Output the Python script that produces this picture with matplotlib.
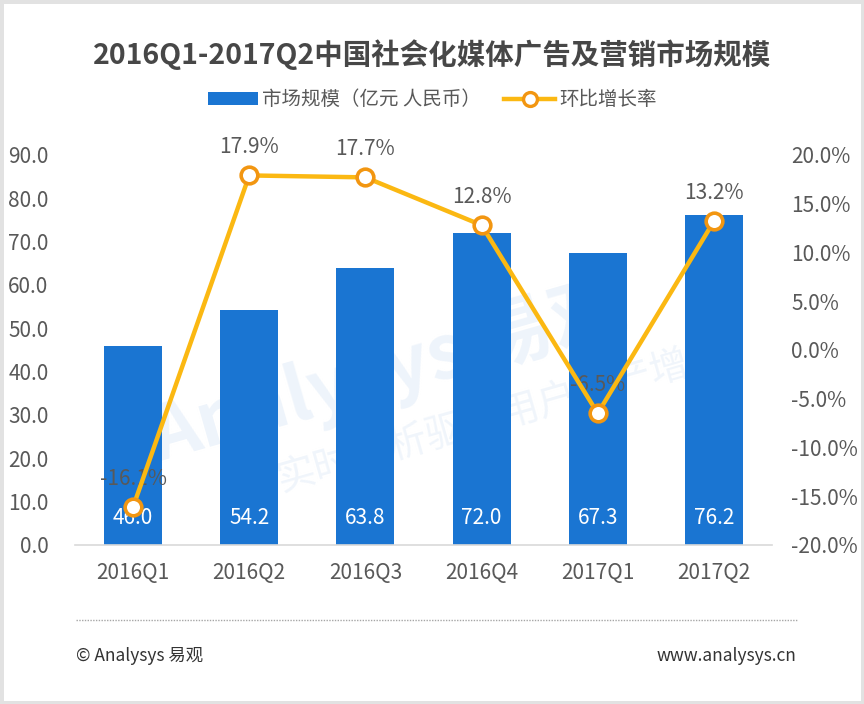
import matplotlib
matplotlib.use("Agg")
import matplotlib.pyplot as plt
from matplotlib.patches import Rectangle
from matplotlib.lines import Line2D
from matplotlib.patches import Patch

plt.rcParams['font.family'] = ['Noto Sans CJK SC', 'DejaVu Sans']

# 数据
quarters = ['2016Q1', '2016Q2', '2016Q3', '2016Q4', '2017Q1', '2017Q2']
market_size = [46.0, 54.2, 63.8, 72.0, 67.3, 76.2]
growth = [-16.1, 17.9, 17.7, 12.8, -6.5, 13.2]

bar_color = '#1a75d2'
line_color = '#fbb812'
marker_edge = '#f29611'
text_color = '#595959'

fig = plt.figure(figsize=(8.64, 7.04), dpi=100)
fig.patch.set_facecolor('white')
fig.patches.append(Rectangle((0, 0), 1, 1, transform=fig.transFigure,
                             fill=False, edgecolor='#e2e2e2', linewidth=5))

ax = fig.add_axes([0.0868, 0.2259, 0.8067, 0.554])
ax2 = ax.twinx()

# 水印（放在柱子后面）
ax.text(0.45, 0.47, 'Analysys 易观', fontsize=54, color='#eef4fb', rotation=16,
        ha='center', va='center', fontweight='bold', zorder=1, transform=fig.transFigure)
ax.text(0.58, 0.41, '实时分析驱动用户资产增长', fontsize=28, color='#f0f5fb', rotation=16,
        ha='center', va='center', zorder=1, transform=fig.transFigure)

x = list(range(len(quarters)))
ax.bar(x, market_size, width=0.5, color=bar_color, zorder=2)
for xi, v in zip(x, market_size):
    ax.text(xi, 6.2, f'{v:.1f}', ha='center', va='center', color='white', fontsize=15, zorder=5)

ax.set_xlim(-0.5, 5.5)
ax.set_ylim(0, 90)
ax.set_yticks(range(0, 91, 10))
ax.set_yticklabels([f'{t:.1f}' for t in range(0, 91, 10)])
ax.set_xticks(x)
ax.set_xticklabels(quarters)

ax2.plot(x, growth, color=line_color, linewidth=3.2, marker='o', markersize=12,
         markerfacecolor='white', markeredgecolor=marker_edge, markeredgewidth=2.6,
         zorder=4, clip_on=False)
for xi, g in zip(x, growth):
    ax2.text(xi, g + 2.9, f'{g:.1f}%', ha='center', va='center', color=text_color,
             fontsize=15, zorder=3)
ax2.set_ylim(-20, 20)
ax2.set_yticks(range(-20, 21, 5))
ax2.set_yticklabels([f'{t:.1f}%' for t in range(-20, 21, 5)])
ax2.set_zorder(ax.get_zorder() + 1)
ax2.patch.set_visible(False)

for a in (ax, ax2):
    for s in a.spines.values():
        s.set_visible(False)
    a.tick_params(length=0, labelsize=15, colors=text_color)
ax.spines['bottom'].set_visible(True)
ax.spines['bottom'].set_color('#d9d9d9')
ax.spines['bottom'].set_linewidth(1.2)
ax.tick_params(axis='y', pad=19)
ax.tick_params(axis='x', pad=12)
ax2.tick_params(axis='y', pad=14)

fig.text(0.5, 0.922, '2016Q1-2017Q2中国社会化媒体广告及营销市场规模', ha='center', va='center',
         fontsize=20.5, fontweight='bold', color='#474747')

handles = [Patch(facecolor=bar_color),
           Line2D([0], [0], color=line_color, linewidth=3.2, marker='o', markersize=10,
                  markerfacecolor='white', markeredgecolor=marker_edge, markeredgewidth=2.4)]
fig.legend(handles, ['市场规模（亿元 人民币）', '环比增长率'], loc='center',
           bbox_to_anchor=(0.5, 0.858), ncol=2, frameon=False, fontsize=14,
           handlelength=2.6, handletextpad=0.2, columnspacing=1.2,
           labelcolor=text_color)

# 页脚
fig.add_artist(Line2D([0.088, 0.922], [0.119, 0.119], transform=fig.transFigure,
                      color='#a6a6a6', linestyle=(0, (1, 1)), linewidth=1))
fig.text(0.088, 0.068, '© Analysys 易观', ha='left', va='center', fontsize=12.5, color='#333333')
fig.text(0.922, 0.068, 'www.analysys.cn', ha='right', va='center', fontsize=12.5, color='#333333')

fig.savefig('out.png', dpi=100, facecolor='white')
